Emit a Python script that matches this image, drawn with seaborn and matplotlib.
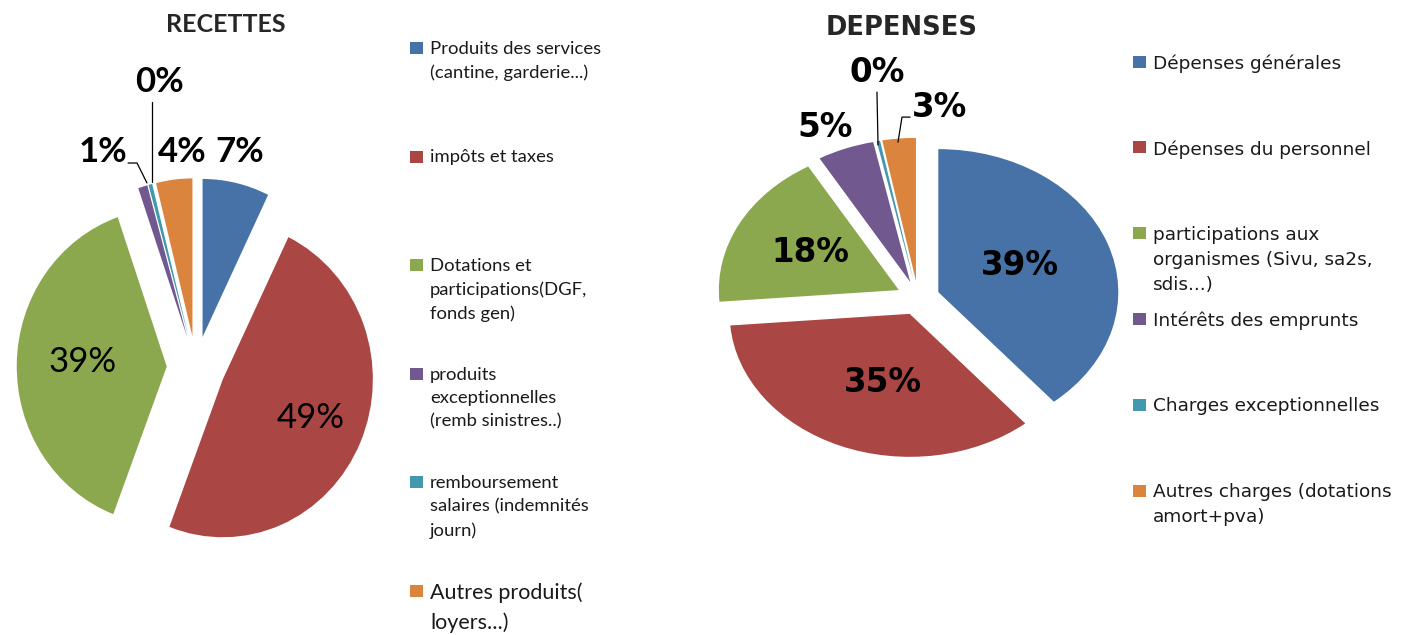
import matplotlib
matplotlib.use("Agg")
import matplotlib.pyplot as plt
from matplotlib.patches import Rectangle
import seaborn as sns

# données
recettes_labels = [
    "Produits des services\n(cantine, garderie...)",
    "impôts et taxes",
    "Dotations et\nparticipations(DGF,\nfonds gen)",
    "produits\nexceptionnelles\n(remb sinistres..)",
    "remboursement\nsalaires (indemnités\njourn)",
    "Autres produits(\nloyers...)",
]
recettes_values = [7.2, 48.6, 38.9, 1.0, 0.4, 3.9]

depenses_labels = [
    "Dépenses générales",
    "Dépenses du personnel",
    "participations aux\norganismes (Sivu, sa2s,\nsdis...)",
    "Intérêts des emprunts",
    "Charges exceptionnelles",
    "Autres charges (dotations\namort+pva)",
]
depenses_values = [38.9, 34.8, 17.9, 5.1, 0.3, 3.0]

colors = ["#4672A8", "#AA4744", "#8BA84E", "#71588F", "#4198AF", "#DB843D"]

sns.set_theme(style="white")
plt.rcParams["font.family"] = ["Lato", "DejaVu Sans"]

W, H = 1415, 635
fig = plt.figure(figsize=(W / 100, H / 100), dpi=100)

# calque en pixels pour titres et légendes
over = fig.add_axes([0, 0, 1, 1])
over.set_xlim(0, W)
over.set_ylim(H, 0)
over.axis("off")


def draw_pie(values, cx, cy, rx, ry, explode, label_pos, weights, size, family):
    lim = 2.0
    ax = fig.add_axes([(cx - lim * rx) / W, 1 - (cy + lim * ry) / H,
                       2 * lim * rx / W, 2 * lim * ry / H])
    wedges, texts, autotexts = ax.pie(
        values, colors=colors, startangle=90, counterclock=False,
        explode=[explode] * len(values),
        autopct=lambda p: f"{p:.0f}%",
        wedgeprops=dict(linewidth=0),
        textprops=dict(color="black", fontsize=size, family=family),
    )
    ax.set_aspect("auto")
    ax.set_xlim(-lim, lim)
    ax.set_ylim(-lim, lim)
    ax.axis("off")
    for t, pos, w in zip(autotexts, label_pos, weights):
        t.set_position(pos)
        t.set_fontweight(w)
        t.set_ha("center")
        t.set_va("center")
    return ax


def draw_legend(labels, x, y0, step, sizes, family, spacing):
    for i, (lab, col, size) in enumerate(zip(labels, colors, sizes)):
        y = y0 + i * step
        over.add_patch(Rectangle((x, y - 6), 13, 12, color=col, lw=0))
        top = y - 0.39 * size * 100 / 72
        over.text(x + 20, top, lab, ha="left", va="top", fontsize=size,
                  family=family, color="#1a1a1a", linespacing=spacing)


# RECETTES
ax1 = draw_pie(recettes_values, 196, 367, 150, 158, 0.195,
               [(0.293, 1.361), (0.767, -0.323), (-0.753, 0.032),
                (-0.62, 1.361), (-0.24, 1.804), (-0.093, 1.361)],
               ["bold", "normal", "normal", "bold", "bold", "bold"],
               25, ["Lato", "DejaVu Sans"])
ax1.plot([-0.293, -0.293], [1.677, 1.171], color="black", lw=0.9)
ax1.plot([-0.453, -0.393, -0.327], [1.291, 1.291, 1.165], color="black", lw=0.9)
over.text(226, 24, "RECETTES", ha="center", va="center", fontsize=18,
          fontweight="bold", family=["Lato", "DejaVu Sans"])
draw_legend(recettes_labels, 410, 48, 108.6, [13.3] * 5 + [15.5],
            ["Lato", "DejaVu Sans"], 1.55)

# DEPENSES
ax2 = draw_pie(depenses_values, 918, 298, 180, 143, 0.12,
               [(0.567, 0.23), (-0.194, -0.594), (-0.6, 0.315),
                (-0.517, 1.19), (-0.228, 1.58), (0.122, 1.33)],
               ["bold"] * 6, 23.5, ["DejaVu Sans"])
ax2.plot([-0.228, -0.222], [1.44, 1.07], color="black", lw=0.9)
ax2.plot([-0.044, -0.089, -0.111], [1.265, 1.265, 1.09], color="black", lw=0.9)
over.text(902, 28, "DEPENSES", ha="center", va="center", fontsize=18.5,
          fontweight="bold", family=["DejaVu Sans"])
draw_legend(depenses_labels, 1133, 61.5, 85.8, [13.3] * 6, ["DejaVu Sans"], 1.5)

fig.savefig("out.png", dpi=100)
